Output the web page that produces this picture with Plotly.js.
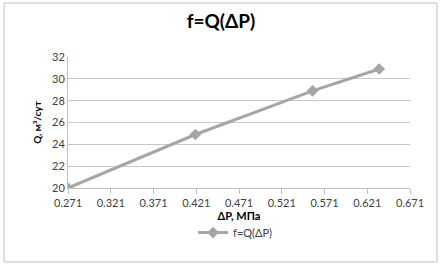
<!DOCTYPE html>
<html><head><meta charset="utf-8">
<script src="https://cdn.plot.ly/plotly-3.0.1.min.js"></script>
<style>html,body{margin:0;padding:0;background:#fff}</style>
</head><body>
<div id="chart" style="width:442px;height:266px"></div>
<script>
const seriesName = "f=Q(ΔP)";
const dpValues = [0.271, 0.42, 0.557, 0.635];
const qValues = [20, 24.9, 28.9, 30.9];
const xTickVals = [0.271, 0.321, 0.371, 0.421, 0.471, 0.521, 0.571, 0.621, 0.671];
const xTickText = ["0.271", "0.321", "0.371", "0.421", "0.471", "0.521", "0.571", "0.621", "0.671"];
const yTickVals = [20, 22, 24, 26, 28, 30, 32];

const trace = {
  x: dpValues, y: qValues, type: 'scatter', mode: 'lines+markers', name: seriesName,
  line: {color: '#a6a6a6', width: 3},
  marker: {symbol: 'diamond', size: 9, color: '#a6a6a6'}
};
const layout = {
  width: 442, height: 266,
  margin: {l: 68, r: 32, t: 57, b: 78},
  paper_bgcolor: '#fff', plot_bgcolor: '#fff',
  font: {family: 'Lato, "Open Sans", sans-serif', size: 10, color: '#404040'},
  title: {text: '<b>f=Q(ΔP)</b>', x: 0.5, xanchor: 'center', y: 0.918, yanchor: 'middle',
          font: {size: 19, color: '#000', family: 'Lato, sans-serif'}},
  xaxis: {range: [0.271, 0.671], tickvals: xTickVals, ticktext: xTickText,
          showgrid: false, zeroline: false, showline: true, linecolor: '#bfbfbf', linewidth: 1,
          ticks: 'outside', ticklen: 5, tickcolor: '#bfbfbf',
          tickfont: {size: 11, color: '#404040'},
          title: {text: '<b>ΔP, МПа</b>', standoff: 0, font: {size: 11, color: '#000'}},
          automargin: false},
  yaxis: {range: [20, 32], tickvals: yTickVals, showgrid: true, gridcolor: '#c8c8c8',
          zeroline: false, showline: true, linecolor: '#bfbfbf', ticks: '',
          tickfont: {size: 11, color: '#404040'},
          title: {text: '<b>Q, м³/сут</b>', standoff: 8, font: {size: 10, color: '#000'}},
          automargin: false},
  showlegend: true,
  legend: {orientation: 'h', x: 0.49, xanchor: 'center', y: -0.34, yanchor: 'middle',
           font: {size: 11, color: '#404040'}, bgcolor: 'rgba(0,0,0,0)'},
  shapes: [{type: 'rect', xref: 'paper', yref: 'paper', x0: -0.187, x1: 1.079, y0: -0.565, y1: 1.412,
            line: {color: '#bfbfbf', width: 1}}]
};
Plotly.newPlot('chart', [trace], layout, {displayModeBar: false, staticPlot: true});
</script>
</body></html>
